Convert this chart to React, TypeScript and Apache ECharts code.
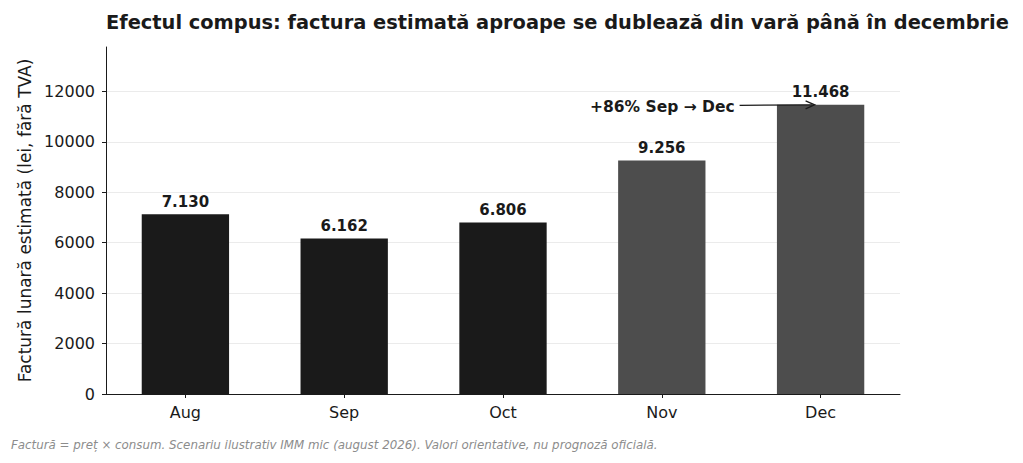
import React, { useEffect, useRef } from "react";
import * as echarts from "echarts";

const categories = ["Aug", "Sep", "Oct", "Nov", "Dec"];
const values = [7130, 6162, 6806, 9256, 11468];
const barColors = ["#1a1a1a", "#1a1a1a", "#1a1a1a", "#4d4d4d", "#4d4d4d"];
const valueLabels = ["7.130", "6.162", "6.806", "9.256", "11.468"];
const titleText = "Efectul compus: factura estimată aproape se dublează din vară până în decembrie";
const yAxisName = "Factură lunară estimată (lei, fără TVA)";
const footerText = "Factură = preț × consum. Scenariu ilustrativ IMM mic (august 2026). Valori orientative, nu prognoză oficială.";
const annotationText = "+86% Sep → Dec";
const annotationTarget = { category: "Dec", value: 11468 };

const FONT = "DejaVu Sans";

export default function App() {
  const ref = useRef<HTMLDivElement>(null);
  useEffect(() => {
    document.body.style.margin = "0";
    if (!ref.current) return;
    const chart = echarts.init(ref.current, null, { renderer: "svg" });
    const yMax = Math.max(...values) * 1.2;
    const footer = {
      type: "text",
      left: 11,
      top: 439,
      style: { text: footerText, fontFamily: FONT, fontSize: 11.85, fontStyle: "italic", fill: "#8c8c8c" },
    };
    chart.setOption({
      animation: false,
      backgroundColor: "#ffffff",
      textStyle: { fontFamily: FONT },
      title: {
        text: titleText,
        left: 101,
        top: 8,
        textStyle: { fontFamily: FONT, fontSize: 19.4, fontWeight: "bold", color: "#1a1a1a" },
      },
      grid: { left: 106, right: 123, top: 47, bottom: 69, containLabel: false },
      xAxis: {
        type: "category",
        data: categories,
        boundaryGap: true,
        axisLine: { show: true, lineStyle: { color: "#1a1a1a", width: 1 } },
        axisTick: { show: true, alignWithLabel: true, length: 4, lineStyle: { color: "#1a1a1a" } },
        axisLabel: { color: "#1a1a1a", fontSize: 16, fontFamily: FONT, margin: 10 },
      },
      yAxis: {
        type: "value",
        min: 0,
        max: yMax,
        interval: 2000,
        name: yAxisName,
        nameLocation: "middle",
        nameGap: 72,
        nameTextStyle: { fontFamily: FONT, fontSize: 17, color: "#1a1a1a" },
        axisLine: { show: true, lineStyle: { color: "#1a1a1a", width: 1 } },
        axisTick: { show: true, length: 4, lineStyle: { color: "#1a1a1a" } },
        axisLabel: {
          color: "#1a1a1a",
          fontSize: 16,
          fontFamily: FONT,
          margin: 11,
          showMaxLabel: false,
          formatter: (v: number) => (v % 2000 === 0 ? String(v) : ""),
        },
        splitLine: { show: true, showMaxLine: false, lineStyle: { color: "#ebebeb", width: 1 } },
      },
      series: [
        {
          type: "bar",
          barWidth: "55%",
          data: values.map((v, i) => ({ value: v, itemStyle: { color: barColors[i] } })),
          label: {
            show: true,
            position: "top",
            distance: 5,
            formatter: (p: any) => valueLabels[p.dataIndex],
            fontFamily: FONT,
            fontSize: 15,
            fontWeight: "bold",
            color: "#1a1a1a",
          },
          z: 3,
        },
      ],
      graphic: [footer],
    });
    const tip = chart.convertToPixel({ gridIndex: 0 }, [annotationTarget.category, annotationTarget.value]) as number[];
    const tipX = tip[0] - 6;
    const tipY = tip[1];
    const startX = tipX - 75;
    chart.setOption({
      graphic: [
        footer,
        {
          type: "text",
          x: startX - 5,
          y: tipY + 2.5,
          style: {
            text: annotationText,
            fontFamily: FONT,
            fontSize: 15.5,
            fontWeight: "bold",
            fill: "#1a1a1a",
            align: "right",
            verticalAlign: "middle",
          },
          z: 10,
        },
        {
          type: "line",
          shape: { x1: startX, y1: tipY + 0.5, x2: tipX - 2, y2: tipY },
          style: { stroke: "#1a1a1a", lineWidth: 1.3 },
          z: 10,
        },
        {
          type: "polyline",
          shape: { points: [[tipX - 9, tipY - 4], [tipX, tipY], [tipX - 9, tipY + 4]] },
          style: { stroke: "#1a1a1a", lineWidth: 1.3, fill: null },
          z: 10,
        },
      ],
    });
    return () => chart.dispose();
  }, []);
  return <div ref={ref} style={{ width: 1023, height: 463 }} />;
}
